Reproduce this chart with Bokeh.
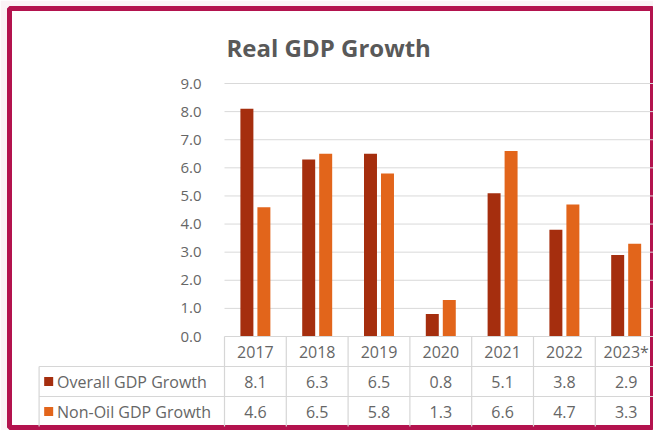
import numpy as np
from bokeh.plotting import figure
from bokeh.models import ColumnDataSource, Range1d, FixedTicker, PrintfTickFormatter, Label
from bokeh.transform import dodge
from bokeh.core.properties import value
from bokeh.embed import file_html
from bokeh.resources import INLINE

# ---------------- data ----------------
title_text = "Real GDP Growth"
years = ["2017", "2018", "2019", "2020", "2021", "2022", "2023*"]
overall = [8.1, 6.3, 6.5, 0.8, 5.1, 3.8, 2.9]
non_oil = [4.6, 6.5, 5.8, 1.3, 6.6, 4.7, 3.3]
series_names = ["Overall GDP Growth", "Non-Oil GDP Growth"]
y_ticks = [0, 1, 2, 3, 4, 5, 6, 7, 8, 9]

# ---------------- style ----------------
DARK = "#A52E0E"
ORANGE = "#E2651B"
GRID = "#D9D9D9"
TABLE_LINE = "#D6D6D6"
TEXT = "#666666"
TITLE = "#595959"
BORDER = "#B3134E"
FONT = "Open Sans"

n = len(years)
xc = np.arange(n) + 0.5

p = figure(width=653, height=430, output_backend="svg", toolbar_location=None,
           x_range=Range1d(-3.479, 6.942), y_range=Range1d(-3.237, 11.668),
           x_axis_location=None, y_axis_location="left",
           min_border_left=9, min_border_right=0, min_border_top=8, min_border_bottom=3,
           background_fill_color="white", border_fill_color="#FBF3F6",
           outline_line_color=BORDER, outline_line_width=5)
p.grid.visible = False
p.extra_y_ranges = {"table": Range1d(-0.033, 13.933)}

# y axis drawn at the left edge of the plotting area
ax = p.yaxis[0]
ax.fixed_location = 0
ax.ticker = FixedTicker(ticks=y_ticks)
ax.formatter = PrintfTickFormatter(format="%.1f")
ax.axis_line_color = None
ax.major_tick_line_color = None
ax.minor_tick_line_color = None
ax.major_label_standoff = 17
ax.major_label_text_font = FONT
ax.major_label_text_font_size = "15px"
ax.major_label_text_color = TEXT

# gridlines over the plotting area only
p.segment(x0=0, x1=n, y0=y_ticks[1:], y1=y_ticks[1:], line_color=GRID, line_width=1)

# bars
src = ColumnDataSource(dict(x=xc, year=years, overall=overall, non_oil=non_oil,
                            overall_txt=["%.1f" % v for v in overall],
                            non_oil_txt=["%.1f" % v for v in non_oil]))
p.vbar(x=dodge("x", -0.1375), top="overall", bottom=0, width=0.21,
       fill_color=DARK, line_color=None, source=src)
p.vbar(x=dodge("x", 0.1375), top="non_oil", bottom=0, width=0.21,
       fill_color=ORANGE, line_color=None, source=src)

# data table
nrows = len(series_names) + 1
cols = np.arange(n + 1)
p.segment(x0=cols, x1=cols, y0=0, y1=nrows, line_color=TABLE_LINE, line_width=1.2,
          y_range_name="table")
p.segment(x0=[-3], x1=[-3], y0=[0], y1=[nrows - 1], line_color=TABLE_LINE, line_width=1.2,
          y_range_name="table")
p.segment(x0=[0], x1=[n], y0=[nrows], y1=[nrows], line_color=TABLE_LINE, line_width=1.2,
          y_range_name="table")
p.segment(x0=-3, x1=n, y0=list(range(1, nrows)), y1=list(range(1, nrows)),
          line_color=TABLE_LINE, line_width=1.2, y_range_name="table")

txt_kw = dict(text_font=value(FONT), text_font_size="16px", text_color=TEXT,
              text_align="center", text_baseline="middle", y_range_name="table", source=src)
p.text(x="x", y=nrows - 0.5, text="year", **txt_kw)
p.text(x="x", y=nrows - 1.5, text="overall_txt", **txt_kw)
p.text(x="x", y=nrows - 2.5, text="non_oil_txt", **txt_kw)

leg = ColumnDataSource(dict(name=series_names, color=[DARK, ORANGE],
                            y=[nrows - 1.5, nrows - 2.5], x=[-3, -3]))
p.scatter(x=dodge("x", 0.155), y="y", marker="square", size=9, fill_color="color",
          line_color=None, y_range_name="table", source=leg)
p.text(x=dodge("x", 0.29), y="y", text="name", text_font=value(FONT), text_font_size="16px",
       text_color=TEXT, text_align="left", text_baseline="middle",
       y_range_name="table", source=leg)

# title
p.add_layout(Label(x=0, y=10.28, x_offset=2, text=title_text, text_font=FONT,
                   text_font_size="24px", text_font_style="bold", text_color=TITLE,
                   text_baseline="middle", text_align="left"))

open("out.html", "w").write(file_html(p, INLINE))
